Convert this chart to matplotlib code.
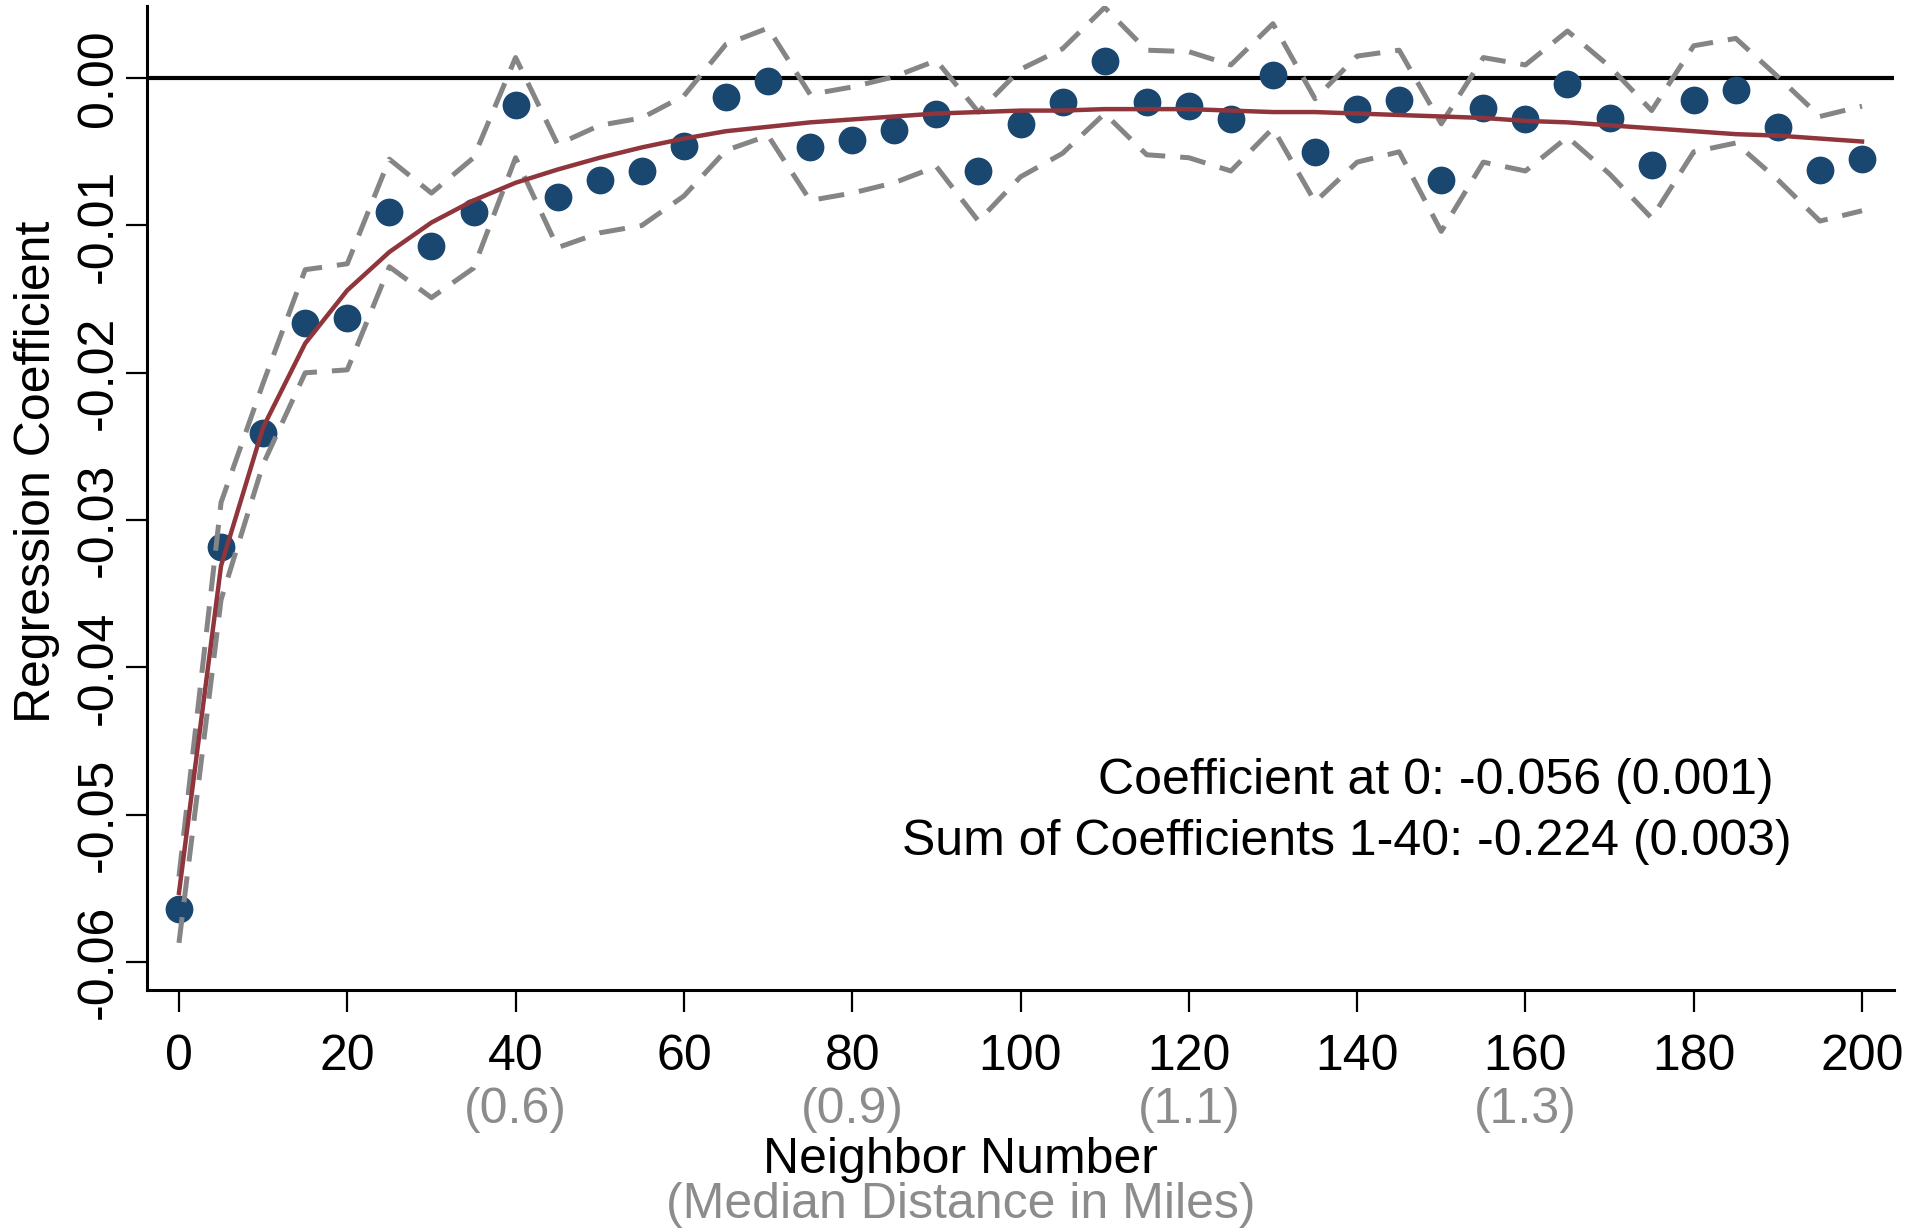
import numpy as np
import matplotlib
matplotlib.use("Agg")
import matplotlib.pyplot as plt
import matplotlib.transforms as mtransforms

plt.rcParams['font.family'] = ['Liberation Sans', 'DejaVu Sans']
plt.rcParams['axes.unicode_minus'] = False

# ---------- data ----------
neighbor = list(range(0, 205, 5))

coef = [-0.0564, -0.0318, -0.0241, -0.0166, -0.0163, -0.0091, -0.0114, -0.0091,
        -0.0018, -0.0081, -0.0069, -0.0063, -0.0046, -0.0013, -0.0002, -0.0047,
        -0.0042, -0.0035, -0.0024, -0.0063, -0.0031, -0.0016, 0.0012, -0.0016,
        -0.0019, -0.0028, 0.0002, -0.0050, -0.0021, -0.0015, -0.0069, -0.0020,
        -0.0028, -0.0004, -0.0027, -0.0059, -0.0015, -0.0008, -0.0033, -0.0062,
        -0.0055]

ci_upper = [-0.0542, -0.0288, -0.0207, -0.0130, -0.0126, -0.0055, -0.0078, -0.0054,
            0.0014, -0.0045, -0.0032, -0.0027, -0.0012, 0.0023, 0.0034, -0.0011,
            -0.0006, 0.0001, 0.0012, -0.0023, 0.0006, 0.0020, 0.0048, 0.0019,
            0.0018, 0.0009, 0.0037, -0.0014, 0.0015, 0.0019, -0.0031, 0.0014,
            0.0009, 0.0032, 0.0008, -0.0022, 0.0022, 0.0027, 0.0001, -0.0026,
            -0.0019]

ci_lower = [-0.0587, -0.0354, -0.0262, -0.0200, -0.0198, -0.0128, -0.0149, -0.0129,
            -0.0054, -0.0115, -0.0105, -0.0100, -0.0080, -0.0049, -0.0039, -0.0083,
            -0.0078, -0.0071, -0.0060, -0.0097, -0.0067, -0.0051, -0.0024, -0.0052,
            -0.0054, -0.0063, -0.0034, -0.0084, -0.0057, -0.0050, -0.0104, -0.0057,
            -0.0063, -0.0040, -0.0065, -0.0095, -0.0050, -0.0044, -0.0069, -0.0097,
            -0.0090]

fit = [-0.0553, -0.0331, -0.0237, -0.0180, -0.0144, -0.0118, -0.0098, -0.0083,
       -0.0071, -0.0062, -0.0054, -0.0047, -0.0041, -0.0036, -0.0033, -0.0030,
       -0.0028, -0.0026, -0.0024, -0.0023, -0.0022, -0.0022, -0.0021, -0.0021,
       -0.0021, -0.0022, -0.0023, -0.0023, -0.0024, -0.0025, -0.0026, -0.0027,
       -0.0029, -0.0030, -0.0032, -0.0034, -0.0036, -0.0038, -0.0039, -0.0041,
       -0.0043]

x_ticks = [0, 20, 40, 60, 80, 100, 120, 140, 160, 180, 200]
y_ticks = [0.00, -0.01, -0.02, -0.03, -0.04, -0.05, -0.06]
y_tick_labels = ["0.00", "-0.01", "-0.02", "-0.03", "-0.04", "-0.05", "-0.06"]

dist_pos = [40, 80, 120, 160]
dist_labels = ["(0.6)", "(0.9)", "(1.1)", "(1.3)"]

note_lines = ["Coefficient at 0: -0.056 (0.001)",
              "Sum of Coefficients 1-40: -0.224 (0.003)"]

# ---------- figure ----------
W, H = 1921, 1230
fig = plt.figure(figsize=(W / 100, H / 100), dpi=100)
ax = fig.add_axes([147 / W, 1 - 990 / H, (1894 - 147) / W, (990 - 6) / H])

FS = 36
navy = '#1a476f'
maroon = '#90353b'
grey = '#858585'
light = '#8c8c8c'

ax.axhline(0, color='black', linewidth=3.0, zorder=1)
ax.plot(neighbor, coef, linestyle='none', marker='o', markersize=20,
        color=navy, markeredgewidth=0, zorder=2)
ax.plot(neighbor, ci_upper, color=grey, linewidth=3.6, dashes=(5.2, 3),
        dash_capstyle='butt', zorder=3)
ax.plot(neighbor, ci_lower, color=grey, linewidth=3.6, dashes=(5.2, 3),
        dash_capstyle='butt', zorder=3)
ax.plot(neighbor, fit, color=maroon, linewidth=3.2, zorder=4)

ax.set_xlim(-3.8, 203.8)
ax.set_ylim(-0.0619, 0.0049)

ax.spines['top'].set_visible(False)
ax.spines['right'].set_visible(False)
ax.spines['left'].set_linewidth(2.2)
ax.spines['bottom'].set_linewidth(2.2)

ax.set_xticks(x_ticks)
ax.set_xticklabels([str(v) for v in x_ticks])
ax.set_yticks(y_ticks)
ax.set_yticklabels(y_tick_labels, rotation=90, va='center')
ax.tick_params(axis='x', length=16, width=1.6, pad=16, labelsize=FS)
ax.tick_params(axis='y', length=15, width=1.6, pad=3, labelsize=FS)

# secondary distance labels under the ticks
trans = mtransforms.blended_transform_factory(ax.transData, fig.transFigure)
for xp, lab in zip(dist_pos, dist_labels):
    ax.text(xp, 1 - 1123 / H, lab, transform=trans, ha='center', va='baseline',
            fontsize=FS, color=light, clip_on=False)

fig.text(0.5, 1 - 1173 / H, "Neighbor Number", ha='center', va='baseline', fontsize=FS)
fig.text(0.5, 1 - 1218 / H, "(Median Distance in Miles)", ha='center', va='baseline',
         fontsize=FS, color=light)
fig.text(37 / W, 1 - 472 / H, "Regression Coefficient", rotation=90,
         ha='center', va='center', fontsize=FS)

fig.text(1774 / W, 1 - 794 / H, note_lines[0], ha='right', va='baseline', fontsize=FS)
fig.text(1792 / W, 1 - 855 / H, note_lines[1], ha='right', va='baseline', fontsize=FS)

fig.savefig("out.png", dpi=100, facecolor='white')
